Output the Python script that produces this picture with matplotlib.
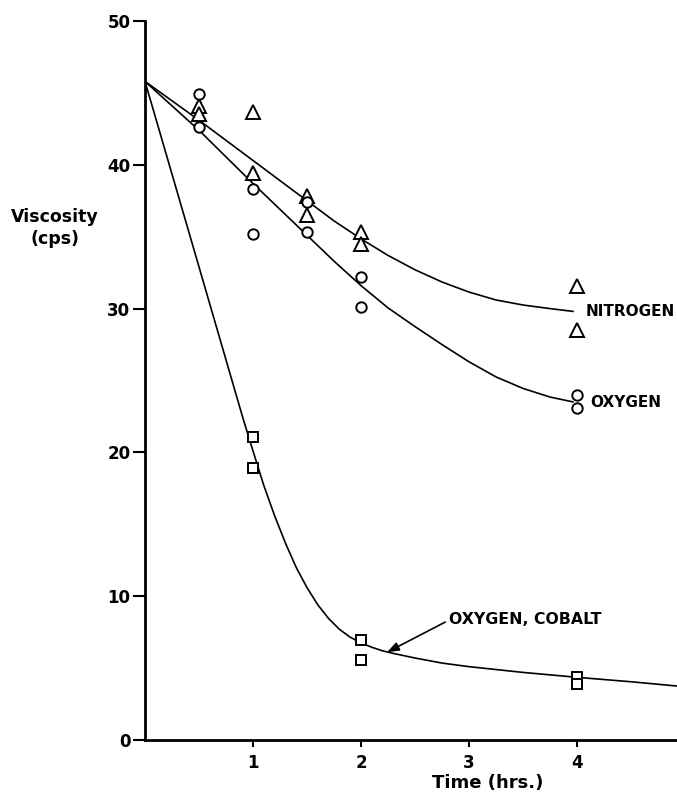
import matplotlib
matplotlib.use("Agg")
import matplotlib.pyplot as plt

# Viscosity decay vs. time under nitrogen, oxygen and oxygen + cobalt
plt.rcParams['font.family'] = ['DejaVu Sans']
plt.rcParams['font.weight'] = 'bold'

# measured points
nitrogen_t = [0.5, 0.5, 1, 1, 1.5, 1.5, 2, 2, 4, 4]
nitrogen_v = [44.1, 43.5, 43.7, 39.4, 37.8, 36.5, 35.3, 34.5, 31.6, 28.5]

oxygen_t = [0.5, 0.5, 1, 1, 1.5, 1.5, 2, 2, 4, 4]
oxygen_v = [44.9, 42.6, 38.3, 35.2, 37.4, 35.3, 32.2, 30.1, 24.0, 23.1]

cobalt_t = [1, 1, 2, 2, 4, 4]
cobalt_v = [21.1, 18.9, 6.95, 5.56, 4.36, 3.87]

# hand-drawn fit curves
nitrogen_fit_t = [0, 0.5, 1.0, 1.5, 1.75, 2.0, 2.25, 2.5, 2.75, 3.0, 3.25, 3.5, 3.75, 3.97]
nitrogen_fit_v = [45.8, 43.1, 40.3, 37.5, 36.1, 34.85, 33.7, 32.7, 31.85, 31.15, 30.6,
                  30.25, 30.0, 29.8]

oxygen_fit_t = [0, 0.5, 1.0, 1.5, 1.75, 2.0, 2.25, 2.5, 2.75, 3.0, 3.25, 3.5, 3.75, 3.97]
oxygen_fit_v = [45.8, 42.4, 38.7, 35.1, 33.3, 31.6, 30.05, 28.75, 27.5, 26.3, 25.25,
                24.45, 23.85, 23.5]

cobalt_fit_t = [0, 0.5, 0.91, 1.0, 1.1, 1.2, 1.3, 1.4, 1.5, 1.6, 1.7, 1.8, 1.9, 2.0,
                2.1, 2.2, 2.3, 2.5, 2.75, 3.0, 3.5, 4.0, 4.5, 4.93]
cobalt_fit_v = [45.8, 32.9, 22.3, 20.1, 17.7, 15.6, 13.7, 12.0, 10.6, 9.4, 8.45, 7.7,
                7.15, 6.75, 6.45, 6.2, 6.02, 5.7, 5.35, 5.1, 4.7, 4.36, 4.05, 3.75]

x_ticks = [1, 2, 3, 4]
y_ticks = [0, 10, 20, 30, 40, 50]

fig = plt.figure(figsize=(6.77, 7.94), dpi=100)
ax = fig.add_axes([145 / 677, 54 / 794, 532 / 677, 719 / 794])

line_kw = dict(color='black', lw=1.2, solid_capstyle='butt', solid_joinstyle='round')
ax.plot(nitrogen_fit_t, nitrogen_fit_v, **line_kw)
ax.plot(oxygen_fit_t, oxygen_fit_v, **line_kw)
ax.plot(cobalt_fit_t, cobalt_fit_v, **line_kw)

mk_kw = dict(linestyle='none', markerfacecolor='white', markeredgecolor='black',
             markeredgewidth=1.4, clip_on=False, zorder=3)
ax.plot(nitrogen_t, nitrogen_v, marker='^', markersize=9.5, **mk_kw)
ax.plot(oxygen_t, oxygen_v, marker='o', markersize=7.5, **mk_kw)
ax.plot(cobalt_t, cobalt_v, marker='s', markersize=6.5, **mk_kw)

ax.text(4.08, 29.8, 'NITROGEN', fontsize=11, fontweight='bold', va='center', ha='left')
ax.text(4.12, 23.5, 'OXYGEN', fontsize=11, fontweight='bold', va='center', ha='left')
ax.text(2.815, 8.4, 'OXYGEN, COBALT', fontsize=11.3, fontweight='bold', va='center', ha='left')
ax.annotate('', xy=(2.24, 6.1), xytext=(2.78, 8.2),
            arrowprops=dict(arrowstyle='-|>,head_length=0.6,head_width=0.22',
                            color='black', lw=1.2, shrinkA=0, shrinkB=0,
                            mutation_scale=12))

ax.set_xlim(0, 532 / 108)
ax.set_ylim(0, 50)
ax.set_xticks(x_ticks)
ax.set_yticks(y_ticks)
ax.set_xticklabels([str(t) for t in x_ticks], fontsize=12, fontweight='bold')
ax.set_yticklabels([str(t) for t in y_ticks], fontsize=12, fontweight='bold')
ax.tick_params(axis='y', direction='out', length=9, width=1.5, pad=1.5)
ax.tick_params(axis='x', direction='out', length=5, width=1.5, pad=5)

for side in ['top', 'right']:
    ax.spines[side].set_visible(False)
for side in ['left', 'bottom']:
    ax.spines[side].set_linewidth(2)

fig.text(55 / 677, 1 - 228 / 794, 'Viscosity\n(cps)', fontsize=12.5, fontweight='bold',
         ha='center', va='center', linespacing=1.3)
fig.text(488 / 677, 1 - 783 / 794, 'Time (hrs.)', fontsize=13, fontweight='bold',
         ha='center', va='center')

fig.savefig('out.png', dpi=100)
